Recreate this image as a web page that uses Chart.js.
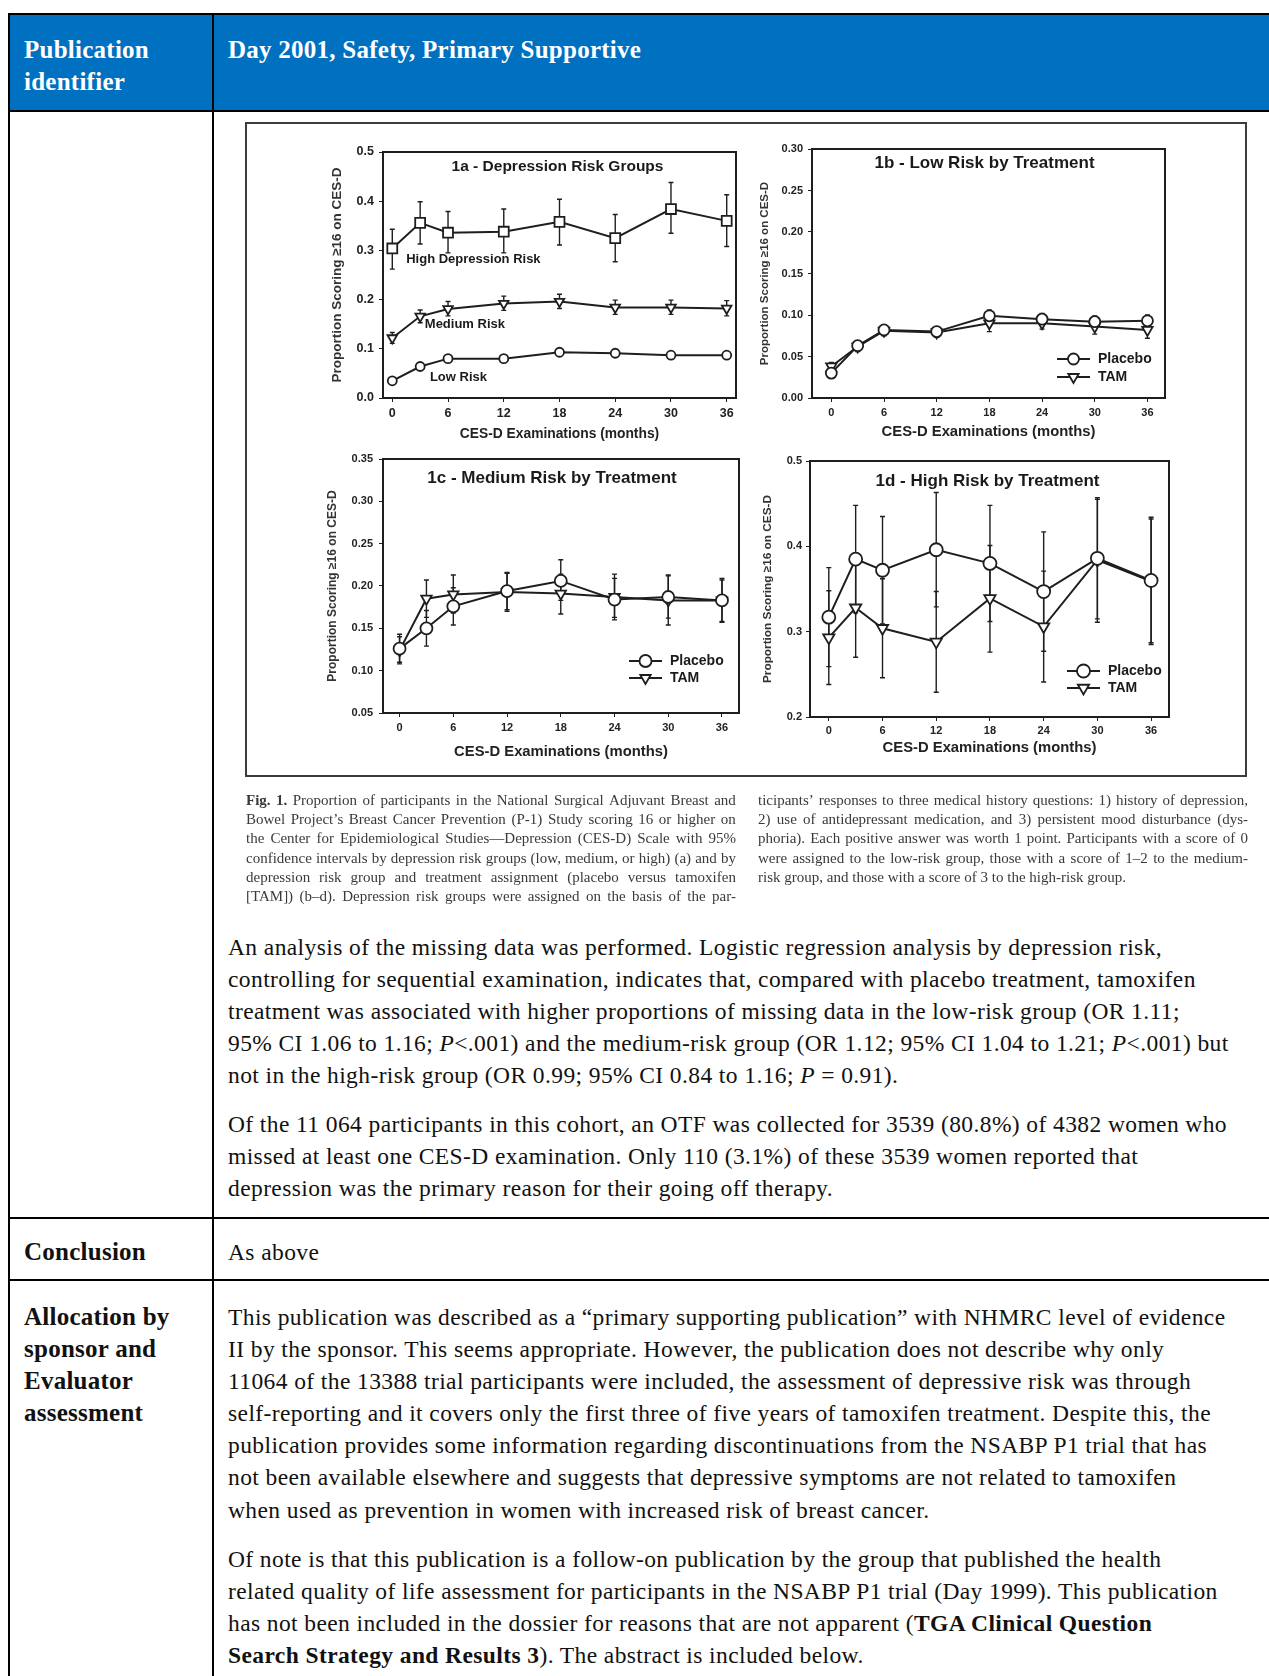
<!DOCTYPE html>
<html><head><meta charset="utf-8">
<script src="https://cdn.jsdelivr.net/npm/chart.js@4.4.0/dist/chart.umd.min.js"></script>
<style>
html,body{margin:0;padding:0;background:#fff;}
body{width:1269px;height:1676px;position:relative;overflow:hidden;font-family:"Liberation Serif","Times New Roman",serif;color:#111;}
.ln{position:absolute;white-space:nowrap;font-size:23.5px;letter-spacing:0.4px;line-height:32px;height:32px;}
.hd{position:absolute;white-space:nowrap;font-size:25px;letter-spacing:0.25px;line-height:32px;font-weight:bold;color:#fff;}
.lb{position:absolute;white-space:nowrap;font-size:25px;letter-spacing:0.25px;line-height:32px;font-weight:bold;}
.cap{position:absolute;font-size:15px;line-height:19px;height:19px;color:#3a3a3a;display:flex;white-space:nowrap;filter:blur(0.3px);}
.cap.j{justify-content:space-between;}
.cap.l span{margin-right:3.8px;}
.bar{position:absolute;background:#000;}
canvas{position:absolute;filter:blur(0.35px);}
.fig{position:absolute;left:245px;top:122px;width:998px;height:651px;border:2px solid #3c3c3c;}
</style></head>
<body>
<div class="bar" style="left:10px;top:15px;width:1259px;height:95px;background:#0070c0"></div>
<div class="bar" style="left:8px;top:13px;width:1261px;height:2px"></div>
<div class="bar" style="left:8px;top:110px;width:1261px;height:2px"></div>
<div class="bar" style="left:8px;top:1217px;width:1261px;height:2px"></div>
<div class="bar" style="left:8px;top:1279px;width:1261px;height:2px"></div>
<div class="bar" style="left:8px;top:13px;width:2px;height:1663px"></div>
<div class="bar" style="left:212px;top:13px;width:2px;height:1663px"></div>

<div class="hd" style="left:24px;top:34px">Publication</div>
<div class="hd" style="left:24px;top:66px">identifier</div>
<div class="hd" style="left:228px;top:34px">Day 2001, Safety, Primary Supportive</div>

<div class="fig"></div>

<div class="ln" style="left:228px;top:931px">An analysis of the missing data was performed. Logistic regression analysis by depression risk,</div>
<div class="ln" style="left:228px;top:963px">controlling for sequential examination, indicates that, compared with placebo treatment, tamoxifen</div>
<div class="ln" style="left:228px;top:995px">treatment was associated with higher proportions of missing data in the low-risk group (OR 1.11;</div>
<div class="ln" style="left:228px;top:1027px">95% CI 1.06 to 1.16; <i>P</i>&lt;.001) and the medium-risk group (OR 1.12; 95% CI 1.04 to 1.21; <i>P</i>&lt;.001) but</div>
<div class="ln" style="left:228px;top:1059px">not in the high-risk group (OR 0.99; 95% CI 0.84 to 1.16; <i>P</i> = 0.91).</div>
<div class="ln" style="left:228px;top:1108px">Of the 11 064 participants in this cohort, an OTF was collected for 3539 (80.8%) of 4382 women who</div>
<div class="ln" style="left:228px;top:1140px">missed at least one CES-D examination. Only 110 (3.1%) of these 3539 women reported that</div>
<div class="ln" style="left:228px;top:1172px">depression was the primary reason for their going off therapy.</div>

<div class="lb" style="left:24px;top:1236px">Conclusion</div>
<div class="ln" style="left:228px;top:1236px">As above</div>

<div class="lb" style="left:24px;top:1301px">Allocation by</div>
<div class="lb" style="left:24px;top:1333px">sponsor and</div>
<div class="lb" style="left:24px;top:1365px">Evaluator</div>
<div class="lb" style="left:24px;top:1397px">assessment</div>
<div class="ln" style="left:228px;top:1301px">This publication was described as a “primary supporting publication” with NHMRC level of evidence</div>
<div class="ln" style="left:228px;top:1333px">II by the sponsor. This seems appropriate. However, the publication does not describe why only</div>
<div class="ln" style="left:228px;top:1365px">11064 of the 13388 trial participants were included, the assessment of depressive risk was through</div>
<div class="ln" style="left:228px;top:1397px">self-reporting and it covers only the first three of five years of tamoxifen treatment. Despite this, the</div>
<div class="ln" style="left:228px;top:1429px">publication provides some information regarding discontinuations from the NSABP P1 trial that has</div>
<div class="ln" style="left:228px;top:1461px">not been available elsewhere and suggests that depressive symptoms are not related to tamoxifen</div>
<div class="ln" style="left:228px;top:1494px">when used as prevention in women with increased risk of breast cancer.</div>
<div class="ln" style="left:228px;top:1543px">Of note is that this publication is a follow-on publication by the group that published the health</div>
<div class="ln" style="left:228px;top:1575px">related quality of life assessment for participants in the NSABP P1 trial (Day 1999). This publication</div>
<div class="ln" style="left:228px;top:1607px">has not been included in the dossier for reasons that are not apparent (<b>TGA Clinical Question</b></div>
<div class="ln" style="left:228px;top:1639px"><b>Search Strategy and Results 3</b>). The abstract is included below.</div>

<script>
// ---------------- DATA ----------------
const months = [0, 3, 6, 12, 18, 24, 30, 36];
const monthTicks = [0, 6, 12, 18, 24, 30, 36];

// 1a - Depression Risk Groups
const highRisk     = [0.304, 0.356, 0.336, 0.338, 0.358, 0.325, 0.384, 0.360];
const highRiskLow  = [0.262, 0.313, 0.295, 0.295, 0.311, 0.277, 0.335, 0.308];
const highRiskHigh = [0.343, 0.399, 0.379, 0.384, 0.404, 0.373, 0.438, 0.413];
const mediumRisk     = [0.122, 0.166, 0.181, 0.192, 0.196, 0.184, 0.184, 0.182];
const mediumRiskLow  = [0.111, 0.153, 0.167, 0.178, 0.182, 0.170, 0.170, 0.167];
const mediumRiskHigh = [0.133, 0.179, 0.196, 0.207, 0.211, 0.199, 0.199, 0.198];
const lowRisk     = [0.035, 0.064, 0.080, 0.080, 0.093, 0.091, 0.087, 0.087];
const lowRiskLow  = [0.030, 0.058, 0.074, 0.074, 0.086, 0.084, 0.080, 0.080];
const lowRiskHigh = [0.040, 0.070, 0.087, 0.087, 0.100, 0.098, 0.094, 0.094];
const yTicks1a = [0, 0.1, 0.2, 0.3, 0.4, 0.5];

// 1b - Low Risk by Treatment
const lowPlacebo     = [0.030, 0.063, 0.082, 0.080, 0.099, 0.095, 0.092, 0.093];
const lowPlaceboLow  = [0.026, 0.058, 0.076, 0.074, 0.092, 0.088, 0.085, 0.086];
const lowPlaceboHigh = [0.035, 0.069, 0.088, 0.086, 0.106, 0.102, 0.099, 0.100];
const lowTam     = [0.038, 0.062, 0.081, 0.079, 0.090, 0.090, 0.086, 0.082];
const lowTamLow  = [0.033, 0.056, 0.075, 0.073, 0.080, 0.083, 0.077, 0.072];
const lowTamHigh = [0.043, 0.068, 0.087, 0.085, 0.097, 0.098, 0.094, 0.090];
const yTicks1b = [0, 0.05, 0.10, 0.15, 0.20, 0.25, 0.30];

// 1c - Medium Risk by Treatment
const medPlacebo     = [0.126, 0.150, 0.176, 0.194, 0.206, 0.184, 0.187, 0.183];
const medPlaceboLow  = [0.110, 0.129, 0.154, 0.172, 0.183, 0.160, 0.162, 0.158];
const medPlaceboHigh = [0.143, 0.171, 0.198, 0.216, 0.231, 0.209, 0.212, 0.207];
const medTam     = [0.124, 0.185, 0.190, 0.193, 0.191, 0.187, 0.183, 0.183];
const medTamLow  = [0.108, 0.163, 0.168, 0.170, 0.167, 0.163, 0.154, 0.157];
const medTamHigh = [0.140, 0.207, 0.213, 0.215, 0.214, 0.214, 0.213, 0.209];
const yTicks1c = [0.05, 0.10, 0.15, 0.20, 0.25, 0.30, 0.35];

// 1d - High Risk by Treatment
const highPlacebo     = [0.317, 0.385, 0.372, 0.396, 0.380, 0.347, 0.386, 0.360];
const highPlaceboLow  = [0.259, 0.322, 0.309, 0.329, 0.312, 0.277, 0.315, 0.287];
const highPlaceboHigh = [0.375, 0.448, 0.435, 0.463, 0.448, 0.417, 0.457, 0.434];
const highTam     = [0.293, 0.328, 0.304, 0.288, 0.339, 0.306, 0.384, 0.359];
const highTamLow  = [0.238, 0.270, 0.246, 0.229, 0.276, 0.241, 0.311, 0.285];
const highTamHigh = [0.348, 0.386, 0.362, 0.347, 0.401, 0.371, 0.455, 0.432];
const yTicks1d = [0.2, 0.3, 0.4, 0.5];

const xTitleText = 'CES-D Examinations (months)';
const yTitleText = 'Proportion Scoring \u226516 on CES-D';

// ---------------- CAPTION ----------------
const capLeft = [
  'Fig. 1. Proportion of participants in the National Surgical Adjuvant Breast and',
  'Bowel Project\u2019s Breast Cancer Prevention (P-1) Study scoring 16 or higher on',
  'the Center for Epidemiological Studies\u2014Depression (CES-D) Scale with 95%',
  'confidence intervals by depression risk groups (low, medium, or high) (a) and by',
  'depression risk group and treatment assignment (placebo versus tamoxifen',
  '[TAM]) (b\u2013d). Depression risk groups were assigned on the basis of the par-'
];
const capRight = [
  'ticipants\u2019 responses to three medical history questions: 1) history of depression,',
  '2) use of antidepressant medication, and 3) persistent mood disturbance (dys-',
  'phoria). Each positive answer was worth 1 point. Participants with a score of 0',
  'were assigned to the low-risk group, those with a score of 1\u20132 to the medium-',
  'risk group, and those with a score of 3 to the high-risk group.'
];
function capLine(text, x, y, justify, boldWords) {
  const d = document.createElement('div');
  d.className = 'cap ' + (justify ? 'j' : 'l');
  d.style.left = x + 'px'; d.style.top = y + 'px';
  if (justify) d.style.width = '490px';
  text.split(' ').forEach((w, i) => {
    const s = document.createElement('span');
    s.textContent = w;
    if (i < boldWords) s.style.fontWeight = 'bold';
    d.appendChild(s);
  });
  document.body.appendChild(d);
}
capLeft.forEach((t, i) => capLine(t, 246, 791 + i * 19.2, true, i === 0 ? 2 : 0));
capRight.forEach((t, i) => capLine(t, 758, 791 + i * 19.2, i < capRight.length - 1, 0));

// ---------------- CHARTS ----------------
Chart.defaults.font.family = '"Liberation Sans", Arial, sans-serif';
Chart.defaults.color = '#222';
const INK = '#1e1e1e';
const FONT = '"Liberation Sans", Arial, sans-serif';

function drawMarker(ctx, style, x, y, r, bw) {
  ctx.save();
  ctx.lineWidth = bw; ctx.strokeStyle = INK; ctx.fillStyle = '#fff';
  ctx.beginPath();
  if (style === 'circle') { ctx.arc(x, y, r, 0, Math.PI * 2); }
  else if (style === 'rect') { const s = r * Math.SQRT1_2; ctx.rect(x - s, y - s, 2 * s, 2 * s); }
  else {
    ctx.moveTo(x, y + r);
    ctx.lineTo(x - r * 0.866, y - r * 0.5);
    ctx.lineTo(x + r * 0.866, y - r * 0.5);
    ctx.closePath();
  }
  ctx.fill(); ctx.stroke(); ctx.restore();
}

function buildPanel(p) {
  const lh = v => v * 1.2;
  const padTop = 14, padRight = 12;
  const cl = Math.round(p.yTitleX - lh(p.yTitleSize) / 2);
  const yW = p.plot.l - cl;
  const xH = Math.round(p.xTitleY - p.plot.b + lh(p.xTitleSize) / 2);
  const ct = p.plot.t - padTop;
  const w = p.plot.r + padRight - cl;
  const h = padTop + (p.plot.b - p.plot.t) + xH;
  const cv = document.createElement('canvas');
  cv.width = w; cv.height = h;
  cv.style.left = cl + 'px'; cv.style.top = ct + 'px';
  cv.style.width = w + 'px'; cv.style.height = h + 'px';
  document.body.appendChild(cv);

  const decor = {
    id: 'panelDecor',
    beforeDatasetsDraw(chart) {
      const {ctx, chartArea: a, scales: {x, y}} = chart;
      ctx.save();
      ctx.strokeStyle = INK; ctx.lineWidth = 2;
      ctx.strokeRect(a.left, a.top, a.right - a.left, a.bottom - a.top);
      ctx.lineWidth = p.errWidth;
      chart.data.datasets.forEach(ds => {
        ds.data.forEach((pt, i) => {
          const px = x.getPixelForValue(pt.x);
          const y1 = y.getPixelForValue(ds.ciLow[i]);
          const y2 = y.getPixelForValue(ds.ciHigh[i]);
          ctx.beginPath();
          ctx.moveTo(px, y1); ctx.lineTo(px, y2);
          ctx.moveTo(px - p.cap, y1); ctx.lineTo(px + p.cap, y1);
          ctx.moveTo(px - p.cap, y2); ctx.lineTo(px + p.cap, y2);
          ctx.stroke();
        });
      });
      ctx.restore();
    },
    afterDatasetsDraw(chart) {
      const {ctx, chartArea: a, scales: {x, y}} = chart;
      ctx.save();
      ctx.fillStyle = '#1a1a1a';
      ctx.textBaseline = 'middle';
      ctx.textAlign = 'center';
      ctx.font = 'bold ' + p.titleSize + 'px ' + FONT;
      ctx.fillText(p.title, (a.left + a.right) / 2 + p.titleDx, a.top + p.titleDy);
      ctx.textAlign = 'left';
      if (p.annots) {
        ctx.font = 'bold ' + p.annotSize + 'px ' + FONT;
        p.annots.forEach(an => ctx.fillText(an.text, x.getPixelForValue(an.x), y.getPixelForValue(an.y)));
      }
      if (p.legend) {
        ctx.font = 'bold ' + p.legend.size + 'px ' + FONT;
        p.series.forEach((s, i) => {
          const ty = a.bottom + p.legend.rows[i];
          const tx = a.right + p.legend.dx;
          ctx.strokeStyle = INK; ctx.lineWidth = 1.8;
          ctx.beginPath(); ctx.moveTo(tx - 41, ty); ctx.lineTo(tx - 8, ty); ctx.stroke();
          drawMarker(ctx, s.style, tx - 24.5, ty, s.radius, 1.8);
          ctx.fillStyle = '#1a1a1a';
          ctx.fillText(s.label, tx, ty + 0.5);
        });
      }
      ctx.restore();
    }
  };

  new Chart(cv, {
    type: 'line',
    data: {
      datasets: p.series.map(s => ({
        label: s.label,
        data: months.map((m, i) => ({x: m, y: s.values[i]})),
        ciLow: s.low, ciHigh: s.high,
        borderColor: INK, borderWidth: p.lineWidth, backgroundColor: '#fff',
        pointStyle: s.style, pointRotation: s.style === 'triangle' ? 180 : 0,
        pointRadius: s.radius, pointBorderWidth: 1.8,
        pointBackgroundColor: '#fff', pointBorderColor: INK,
        tension: 0, fill: false, clip: false
      }))
    },
    options: {
      responsive: false, animation: false, devicePixelRatio: 1,
      layout: {padding: {top: padTop, right: padRight, left: 0, bottom: 0}},
      plugins: {legend: {display: false}, tooltip: {enabled: false}},
      scales: {
        x: {
          type: 'linear', min: p.xMin, max: p.xMax,
          afterBuildTicks: s => { s.ticks = monthTicks.map(v => ({value: v})); },
          afterFit: s => { s.height = xH; },
          ticks: {font: {size: p.tickSize, weight: 'bold'}, color: '#222', padding: p.xTickPad,
                  maxRotation: 0, autoSkip: false, callback: v => String(v)},
          grid: {display: true, drawOnChartArea: false, drawTicks: true, tickLength: 4, color: INK, lineWidth: 1},
          border: {display: false},
          title: {display: true, text: xTitleText, font: {size: p.xTitleSize, weight: 'bold'}, color: '#222', padding: 0}
        },
        y: {
          min: p.yMin, max: p.yMax,
          afterBuildTicks: s => { s.ticks = p.yTicks.map(v => ({value: v})); },
          afterFit: s => { s.width = yW; },
          ticks: {font: {size: p.tickSize, weight: 'bold'}, color: '#222', padding: p.yTickPad,
                  autoSkip: false, callback: v => Number(v).toFixed(p.yDec)},
          grid: {display: true, drawOnChartArea: false, drawTicks: true, tickLength: 4, color: INK, lineWidth: 1},
          border: {display: false},
          title: {display: true, text: yTitleText, font: {size: p.yTitleSize, weight: 'bold'}, color: '#333', padding: 0}
        }
      }
    },
    plugins: [decor]
  });
}

buildPanel({
  plot: {l: 383, t: 152, r: 736, b: 398},
  xMin: -1, xMax: 37, yMin: 0, yMax: 0.5, yTicks: yTicks1a, yDec: 1,
  tickSize: 12.5, xTickPad: 4.5, yTickPad: 5,
  yTitleX: 337, yTitleSize: 13.5, xTitleY: 434, xTitleSize: 13.8,
  title: '1a - Depression Risk Groups', titleSize: 15.5, titleDx: -2, titleDy: 15,
  lineWidth: 2, errWidth: 1.4, cap: 2.5,
  series: [
    {label: 'High Depression Risk', values: highRisk, low: highRiskLow, high: highRiskHigh, style: 'rect', radius: 7},
    {label: 'Medium Risk', values: mediumRisk, low: mediumRiskLow, high: mediumRiskHigh, style: 'triangle', radius: 5.5},
    {label: 'Low Risk', values: lowRisk, low: lowRiskLow, high: lowRiskHigh, style: 'circle', radius: 4.5}
  ],
  annotSize: 13,
  annots: [
    {text: 'High Depression Risk', x: 1.5, y: 0.282},
    {text: 'Medium Risk', x: 3.5, y: 0.150},
    {text: 'Low Risk', x: 4.05, y: 0.041}
  ]
});

buildPanel({
  plot: {l: 812, t: 149, r: 1165, b: 398},
  xMin: -2.2, xMax: 38, yMin: 0, yMax: 0.30, yTicks: yTicks1b, yDec: 2,
  tickSize: 11, xTickPad: 4.4, yTickPad: 5,
  yTitleX: 765, yTitleSize: 11.5, xTitleY: 432, xTitleSize: 14.8,
  title: '1b - Low Risk by Treatment', titleSize: 17, titleDx: -4, titleDy: 14,
  lineWidth: 2, errWidth: 1.3, cap: 2.5,
  series: [
    {label: 'Placebo', values: lowPlacebo, low: lowPlaceboLow, high: lowPlaceboHigh, style: 'circle', radius: 5.5},
    {label: 'TAM', values: lowTam, low: lowTamLow, high: lowTamHigh, style: 'triangle', radius: 6}
  ],
  legend: {size: 14, dx: -67, rows: [-39, -21]}
});

buildPanel({
  plot: {l: 383, t: 459, r: 739, b: 713},
  xMin: -1.85, xMax: 37.9, yMin: 0.05, yMax: 0.35, yTicks: yTicks1c, yDec: 2,
  tickSize: 11, xTickPad: 4.4, yTickPad: 6,
  yTitleX: 332, yTitleSize: 12, xTitleY: 752, xTitleSize: 14.8,
  title: '1c - Medium Risk by Treatment', titleSize: 17, titleDx: -9, titleDy: 19,
  lineWidth: 2, errWidth: 1.4, cap: 2.5,
  series: [
    {label: 'Placebo', values: medPlacebo, low: medPlaceboLow, high: medPlaceboHigh, style: 'circle', radius: 6},
    {label: 'TAM', values: medTam, low: medTamLow, high: medTamHigh, style: 'triangle', radius: 6}
  ],
  legend: {size: 14, dx: -69, rows: [-52, -35]}
});

buildPanel({
  plot: {l: 810, t: 461, r: 1169, b: 717},
  xMin: -2.1, xMax: 38, yMin: 0.2, yMax: 0.5, yTicks: yTicks1d, yDec: 1,
  tickSize: 11, xTickPad: 3.4, yTickPad: 4,
  yTitleX: 768, yTitleSize: 11.8, xTitleY: 748, xTitleSize: 14.8,
  title: '1d - High Risk by Treatment', titleSize: 17, titleDx: -2, titleDy: 20,
  lineWidth: 2, errWidth: 1.4, cap: 2.5,
  series: [
    {label: 'Placebo', values: highPlacebo, low: highPlaceboLow, high: highPlaceboHigh, style: 'circle', radius: 6.5},
    {label: 'TAM', values: highTam, low: highTamLow, high: highTamHigh, style: 'triangle', radius: 6.5}
  ],
  legend: {size: 14, dx: -61, rows: [-46, -29]}
});
</script>
</body></html>
